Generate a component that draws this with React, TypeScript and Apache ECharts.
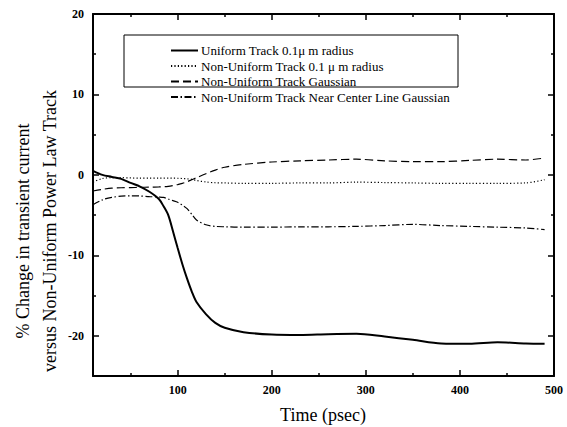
import React, { useEffect, useRef } from "react";
import * as echarts from "echarts";

const times = [10, 20, 30, 40, 50, 60, 70, 80, 85, 90, 95, 100, 105, 110, 115, 120, 130, 140, 150, 170, 200, 230, 260, 290, 320, 350, 380, 410, 440, 470, 490];
const uniform01 = [0.5, 0.0, -0.25, -0.5, -1.0, -1.45, -2.1, -3.0, -3.9, -5.0, -7.0, -9.1, -11.1, -12.9, -14.5, -15.8, -17.3, -18.4, -19.0, -19.55, -19.85, -19.9, -19.8, -19.75, -20.1, -20.5, -20.95, -21.0, -20.8, -20.95, -21.0];
const nonUniform01 = [-0.9, -0.45, -0.35, -0.35, -0.38, -0.4, -0.4, -0.4, -0.4, -0.4, -0.41, -0.42, -0.45, -0.5, -0.55, -0.7, -0.88, -0.98, -1.0, -1.05, -1.05, -1.0, -1.0, -0.9, -0.95, -1.0, -1.05, -1.05, -1.05, -1.0, -0.6];
const nonUniformGauss = [-2.0, -1.8, -1.65, -1.6, -1.58, -1.55, -1.52, -1.5, -1.48, -1.42, -1.32, -1.2, -1.05, -0.85, -0.6, -0.35, 0.15, 0.6, 0.95, 1.3, 1.6, 1.75, 1.85, 1.95, 1.75, 1.65, 1.65, 1.8, 1.95, 1.85, 2.1];
const nearCenterGauss = [-3.7, -3.1, -2.8, -2.65, -2.6, -2.62, -2.7, -2.75, -2.8, -3.0, -3.2, -3.4, -3.75, -4.2, -4.9, -5.6, -6.2, -6.4, -6.45, -6.5, -6.5, -6.45, -6.45, -6.4, -6.3, -6.15, -6.3, -6.4, -6.5, -6.6, -6.8];

const seriesNames = [
  "Uniform Track 0.1\u03bc m radius",
  "Non-Uniform Track 0.1 \u03bc m radius",
  "Non-Uniform Track Gaussian",
  "Non-Uniform Track Near Center Line Gaussian",
];

const xMajor = [100, 200, 300, 400, 500];
const xMinor = [50, 150, 250, 350, 450];
const yMajor = [20, 10, 0, -10, -20];
const yMinor = [15, 5, -5, -15];

const xTitle = "Time (psec)";
const yTitle = "% Change in transient current\nversus Non-Uniform Power Law Track";

const FONT = "'Liberation Serif', 'Times New Roman', serif";

function pairs(vals: number[]) {
  return times.map((t, i) => [t, vals[i]]);
}

function xAx(pos: string, ticks: number[], len: number, labels: boolean, line: boolean) {
  return {
    type: "value",
    position: pos,
    min: 10,
    max: 500,
    axisLine: { show: line, onZero: false, lineStyle: { color: "#000", width: 2 } },
    axisTick: { show: true, inside: true, length: len, customValues: ticks, lineStyle: { color: "#000", width: 1.5 } },
    axisLabel: labels
      ? { show: true, customValues: ticks, color: "#000", fontFamily: FONT, fontSize: 12, fontWeight: "bold", margin: 8 }
      : { show: false },
    splitLine: { show: false },
  };
}

function yAx(pos: string, ticks: number[], len: number, labels: boolean, line: boolean) {
  return {
    type: "value",
    position: pos,
    min: -25,
    max: 20,
    axisLine: { show: line, onZero: false, lineStyle: { color: "#000", width: 2 } },
    axisTick: { show: true, inside: true, length: len, customValues: ticks, lineStyle: { color: "#000", width: 1.5 } },
    axisLabel: labels
      ? { show: true, customValues: ticks, color: "#000", fontFamily: FONT, fontSize: 12, fontWeight: "bold", margin: 9 }
      : { show: false },
    splitLine: { show: false },
  };
}

export default function App() {
  const ref = useRef<HTMLDivElement>(null);
  useEffect(() => {
    if (!ref.current) return;
    const chart = echarts.init(ref.current, null, { renderer: "svg" });
    const styles = [
      { type: "solid", width: 2 },
      { type: [1.2, 2.2], width: 1.2 },
      { type: [8, 4], width: 1.2 },
      { type: [7, 2.5, 1.5, 2.5], width: 1.2 },
    ];
    const datasets = [uniform01, nonUniform01, nonUniformGauss, nearCenterGauss];
    chart.setOption({
      animation: false,
      backgroundColor: "#fff",
      grid: { left: 93, right: 13, top: 14, bottom: 51 },
      xAxis: [
        xAx("bottom", xMajor, 6, true, true),
        xAx("bottom", xMinor, 3, false, false),
        xAx("top", xMajor, 6, false, true),
        xAx("top", xMinor, 3, false, false),
      ],
      yAxis: [
        yAx("left", yMajor, 6, true, true),
        yAx("left", yMinor, 3, false, false),
        yAx("right", yMajor, 6, false, true),
        yAx("right", yMinor, 3, false, false),
      ],
      legend: {
        show: true,
        orient: "vertical",
        left: 170,
        top: 44,
        itemWidth: 27,
        itemHeight: 8,
        itemGap: 2.5,
        padding: 0,
        selectedMode: false,
        itemStyle: { opacity: 0, borderWidth: 0 },
        textStyle: { color: "#000", fontFamily: FONT, fontSize: 13, lineHeight: 8, padding: [0, 0, 0, -2] },
        data: seriesNames,
      },
      graphic: [
        {
          type: "rect",
          shape: { x: 124, y: 35, width: 334, height: 52 },
          style: { fill: "none", stroke: "#000", lineWidth: 1 },
          z: 1,
        },
        {
          type: "text",
          x: 36,
          y: 231,
          rotation: Math.PI / 2,
          style: {
            text: yTitle,
            fontFamily: FONT,
            fontSize: 18,
            lineHeight: 27,
            fill: "#000",
            textAlign: "center",
            textVerticalAlign: "middle",
          },
        },
        {
          type: "text",
          x: 323,
          y: 415,
          style: {
            text: xTitle,
            fontFamily: FONT,
            fontSize: 18,
            fill: "#000",
            textAlign: "center",
            textVerticalAlign: "middle",
          },
        },
      ],
      series: datasets.map((d, i) => ({
        name: seriesNames[i],
        type: "line",
        xAxisIndex: 0,
        yAxisIndex: 0,
        data: pairs(d),
        smooth: 0.3,
        symbol: "none",
        lineStyle: { color: "#000", ...styles[i] },
        itemStyle: { color: "#000" },
      })),
    });
    return () => chart.dispose();
  }, []);
  return <div ref={ref} style={{ width: 567, height: 427, position: "absolute", left: 0, top: 0 }} />;
}
